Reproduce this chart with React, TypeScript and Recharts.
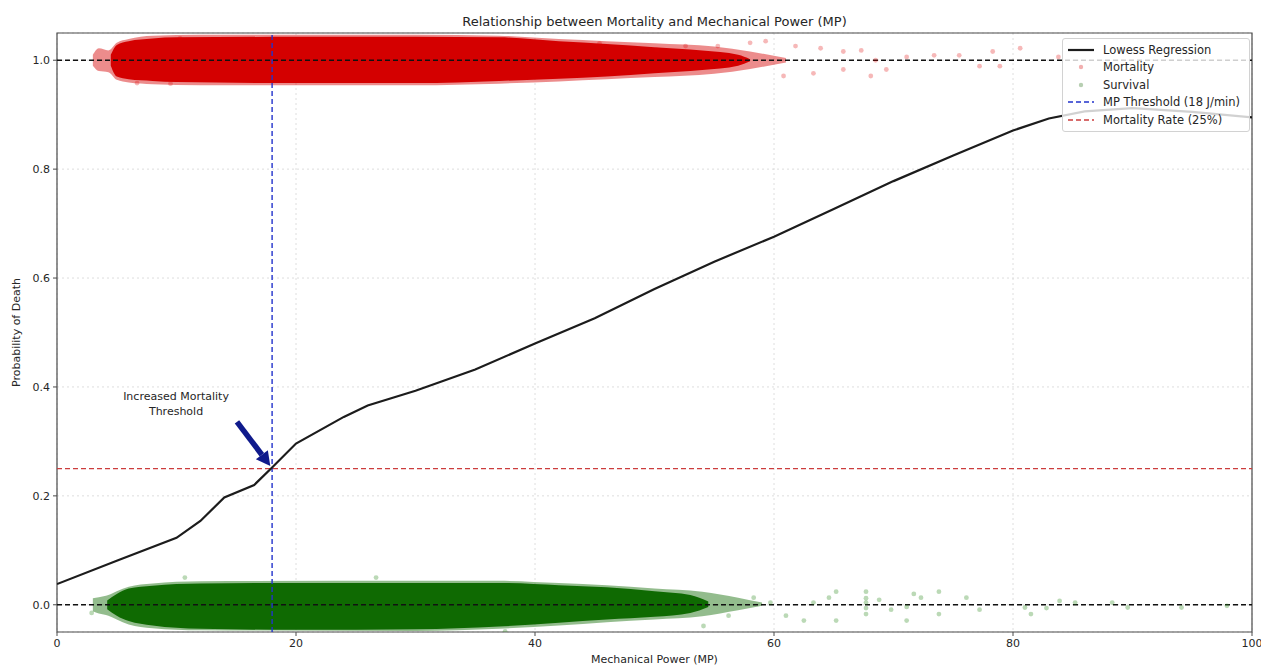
import {
  ComposedChart,
  Area,
  Line,
  Scatter,
  XAxis,
  YAxis,
  CartesianGrid,
  ReferenceLine,
  ReferenceArea,
  ReferenceDot,
  Legend,
} from "recharts";

// chart size + plot box
const W = 1261;
const H = 666;
const FONT = "'DejaVu Sans', Verdana, sans-serif";

const TITLE = "Relationship between Mortality and Mechanical Power (MP)";
const X_LABEL = "Mechanical Power (MP)";
const Y_LABEL = "Probability of Death";
const NOTE_LINES = ["Increased Mortality", "Threshold"];

const X_TICKS = [0, 20, 40, 60, 80, 100];
const Y_TICKS = [0, 0.2, 0.4, 0.6, 0.8, 1.0];

const MP_THRESHOLD = 18;
const MORTALITY_RATE = 0.25;

// lowess curve
const LOWESS_X = [0, 5, 10, 12, 14, 16.5, 18, 20, 24, 26, 30, 35, 40, 45, 50, 55, 60, 65, 70, 75, 80, 83, 86, 90, 95, 100];
const LOWESS_Y = [0.038, 0.081, 0.123, 0.154, 0.197, 0.22, 0.252, 0.296, 0.345, 0.366, 0.393, 0.432, 0.48, 0.526, 0.58, 0.63, 0.676, 0.727, 0.778, 0.825, 0.871, 0.893, 0.906, 0.912, 0.905, 0.895];

// dense part of the mortality cloud (jittered around 1)
const RED_CORE_X = [4.5, 5, 6, 8, 10, 20, 30, 37, 42, 46, 50, 54, 57, 58];
const RED_CORE_LO = [0.99, 0.97, 0.965, 0.962, 0.96, 0.958, 0.958, 0.962, 0.966, 0.97, 0.976, 0.982, 0.99, 0.998];
const RED_CORE_HI = [1.01, 1.028, 1.035, 1.04, 1.042, 1.043, 1.043, 1.042, 1.035, 1.03, 1.024, 1.018, 1.01, 1.002];

const RED_EDGE_X = [3, 3.5, 4.3, 5, 6, 8, 12, 30, 37, 42, 46, 50, 55, 58, 61];
const RED_EDGE_LO = [0.99, 0.98, 0.978, 0.964, 0.959, 0.956, 0.954, 0.954, 0.957, 0.961, 0.965, 0.969, 0.975, 0.984, 0.996];
const RED_EDGE_HI = [1.01, 1.022, 1.018, 1.032, 1.039, 1.045, 1.047, 1.047, 1.045, 1.039, 1.035, 1.031, 1.025, 1.016, 1.004];

// stray mortality points
const RED_DOT_X = [6.7, 9.5, 10.3, 45.4, 50.2, 52.6, 55.3, 58.0, 59.3, 60.8, 61.8, 63.3, 63.9, 65.8, 65.8, 67.3, 68.1, 68.5, 69.4, 71.1, 73.4, 75.5, 77.2, 78.3, 78.9, 80.6, 83.8];
const RED_DOT_Y = [0.958, 0.957, 1.04, 1.031, 1.019, 1.026, 1.026, 1.032, 1.035, 0.971, 1.026, 0.976, 1.022, 0.983, 1.016, 1.018, 0.971, 1.0, 0.983, 1.006, 1.009, 1.009, 0.989, 1.016, 0.989, 1.022, 1.006];

// dense part of the survival cloud (jittered around 0)
const GREEN_CORE_X = [4.2, 5, 6, 8, 12, 20, 30, 37, 42, 46, 50, 53, 54.5];
const GREEN_CORE_LO = [-0.008, -0.02, -0.03, -0.038, -0.044, -0.046, -0.045, -0.04, -0.033, -0.027, -0.022, -0.015, -0.004];
const GREEN_CORE_HI = [0.008, 0.02, 0.03, 0.035, 0.039, 0.04, 0.04, 0.04, 0.036, 0.032, 0.025, 0.018, 0.006];

const GREEN_EDGE_X = [3, 3.5, 4.3, 5, 6, 8, 12, 30, 37, 42, 46, 50, 54, 57, 59];
const GREEN_EDGE_LO = [-0.012, -0.016, -0.02, -0.027, -0.036, -0.043, -0.047, -0.048, -0.044, -0.038, -0.032, -0.027, -0.021, -0.01, -0.002];
const GREEN_EDGE_HI = [0.012, 0.014, 0.018, 0.025, 0.033, 0.039, 0.043, 0.044, 0.044, 0.04, 0.036, 0.03, 0.024, 0.013, 0.004];

// stray survival points
const GREEN_DOT_X = [2.9, 10.7, 26.7, 37.5, 54.1, 56.2, 58.3, 59.7, 61.0, 62.5, 63.3, 64.6, 65.2, 65.2, 67.7, 67.7, 67.7, 67.7, 67.7, 68.8, 69.8, 71.1, 71.1, 71.7, 72.3, 73.8, 73.8, 76.1, 77.2, 81.0, 81.5, 82.8, 83.9, 85.2, 88.3, 89.6, 94.1, 97.9];
const GREEN_DOT_Y = [-0.015, 0.05, 0.05, -0.049, -0.039, -0.02, 0.013, 0.004, -0.02, -0.029, 0.004, 0.013, 0.024, -0.029, 0.024, 0.012, 0.004, -0.006, -0.017, 0.009, -0.009, -0.004, -0.029, 0.02, 0.013, 0.024, -0.017, 0.013, -0.009, -0.005, -0.017, -0.006, 0.007, 0.004, 0.004, -0.005, -0.005, -0.002];

const COLORS = {
  red: "#d40000",
  green: "#0f6a02",
  lowess: "#1c1c1c",
  threshold: "#2233cc",
  rate: "#cc3d3d",
  arrow: "#0f1a8c",
  text: "#262626",
  grid: "#d6d6d6",
  frame: "#4a4a4a",
};

const lowess = LOWESS_X.map((x, i) => ({ x, y: LOWESS_Y[i] }));
const band = (xs: number[], lo: number[], hi: number[]) =>
  xs.map((x, i) => ({ x, range: [lo[i], hi[i]] }));
const redCore = band(RED_CORE_X, RED_CORE_LO, RED_CORE_HI);
const redEdge = band(RED_EDGE_X, RED_EDGE_LO, RED_EDGE_HI);
const greenCore = band(GREEN_CORE_X, GREEN_CORE_LO, GREEN_CORE_HI);
const greenEdge = band(GREEN_EDGE_X, GREEN_EDGE_LO, GREEN_EDGE_HI);
const redDots = RED_DOT_X.map((x, i) => ({ x, y: RED_DOT_Y[i] }));
const greenDots = GREEN_DOT_X.map((x, i) => ({ x, y: GREEN_DOT_Y[i] }));

const dot = (fill: string, opacity: number) => (p: any) =>
  <circle cx={p.cx} cy={p.cy} r={2.4} fill={fill} fillOpacity={opacity} />;

function Arrow(p: any) {
  const { x1, y1, x2, y2 } = p;
  const a = Math.atan2(y2 - y1, x2 - x1);
  const len = 14;
  const half = 7.5;
  const bx = x2 - len * Math.cos(a);
  const by = y2 - len * Math.sin(a);
  const nx = -Math.sin(a);
  const ny = Math.cos(a);
  return (
    <g>
      <line x1={x1} y1={y1} x2={bx} y2={by} stroke={COLORS.arrow} strokeWidth={5.5} />
      <polygon
        points={`${x2},${y2} ${bx + nx * half},${by + ny * half} ${bx - nx * half},${by - ny * half}`}
        fill={COLORS.arrow}
      />
    </g>
  );
}

function Note(p: any) {
  return (
    <text x={p.cx} y={p.cy} textAnchor="middle" fontSize={11} fill={COLORS.text} fontFamily={FONT}>
      <tspan x={p.cx} dy={-3}>{NOTE_LINES[0]}</tspan>
      <tspan x={p.cx} dy={15}>{NOTE_LINES[1]}</tspan>
    </text>
  );
}

const LEGEND_ITEMS = [
  { label: "Lowess Regression", kind: "line", color: COLORS.lowess },
  { label: "Mortality", kind: "dot", color: "#f2b0b0" },
  { label: "Survival", kind: "dot", color: "#b7cfb2" },
  { label: "MP Threshold (18 J/min)", kind: "dash", color: COLORS.threshold },
  { label: "Mortality Rate (25%)", kind: "dash", color: COLORS.rate },
];

function LegendBox() {
  return (
    <div
      style={{
        background: "rgba(255,255,255,0.8)",
        border: "1px solid #d2d2d2",
        borderRadius: 3,
        padding: "2px 6px 2px 4px",
        fontFamily: FONT,
        fontSize: 11.5,
        color: COLORS.text,
        boxSizing: "border-box",
      }}
    >
      {LEGEND_ITEMS.map((it) => (
        <div key={it.label} style={{ display: "flex", alignItems: "center", height: 17.5 }}>
          <svg width={28} height={10} style={{ marginRight: 8 }}>
            {it.kind === "line" && <line x1={1} y1={5} x2={27} y2={5} stroke={it.color} strokeWidth={2.2} />}
            {it.kind === "dash" && (
              <line x1={1} y1={5} x2={27} y2={5} stroke={it.color} strokeWidth={1.6} strokeDasharray="5 3" />
            )}
            {it.kind === "dot" && <circle cx={14} cy={5} r={2.2} fill={it.color} />}
          </svg>
          <span style={{ whiteSpace: "nowrap" }}>{it.label}</span>
        </div>
      ))}
    </div>
  );
}

const tickStyle = { fill: COLORS.text, fontSize: 11, fontFamily: FONT };

export default function App() {
  return (
    <div style={{ position: "absolute", left: 0, top: 0, width: W, height: H, background: "#fff", fontFamily: FONT }}>
      <div
        style={{
          position: "absolute",
          left: 57,
          top: 13,
          width: 1195,
          textAlign: "center",
          fontSize: 13,
          lineHeight: "18px",
          color: COLORS.text,
        }}
      >
        {TITLE}
      </div>
      <ComposedChart width={W} height={H} margin={{ top: 33, right: 9, bottom: 0, left: 0 }}>
        <CartesianGrid stroke={COLORS.grid} strokeDasharray="2 3" strokeWidth={0.8} />
        <XAxis
          type="number"
          dataKey="x"
          domain={[0, 100]}
          ticks={X_TICKS}
          allowDataOverflow
          height={34}
          axisLine={false}
          tickSize={4}
          tickMargin={3}
          tickLine={{ stroke: COLORS.frame }}
          tick={tickStyle}
          label={{ value: X_LABEL, position: "insideBottom", offset: 3, fill: COLORS.text, fontSize: 11, fontFamily: FONT }}
        />
        <YAxis
          type="number"
          domain={[-0.05, 1.05]}
          ticks={Y_TICKS}
          allowDataOverflow
          width={57}
          axisLine={false}
          tickSize={4}
          tickMargin={3}
          tickLine={{ stroke: COLORS.frame }}
          tick={tickStyle}
          tickFormatter={(v: number) => v.toFixed(1)}
          label={{
            content: (p: any) => {
              const vb = p.viewBox || { y: 33, height: 599 };
              const cy = vb.y + vb.height / 2;
              return (
                <text
                  x={16}
                  y={cy}
                  transform={`rotate(-90 16 ${cy})`}
                  textAnchor="middle"
                  dominantBaseline="central"
                  fontSize={11}
                  fill={COLORS.text}
                  fontFamily={FONT}
                >
                  {Y_LABEL}
                </text>
              );
            },
          }}
        />

        <Area data={redEdge} dataKey="range" type="monotone" stroke="none" fill={COLORS.red} fillOpacity={0.45} isAnimationActive={false} />
        <Area data={redCore} dataKey="range" type="monotone" stroke="none" fill={COLORS.red} fillOpacity={1} isAnimationActive={false} />
        <Area data={greenEdge} dataKey="range" type="monotone" stroke="none" fill={COLORS.green} fillOpacity={0.45} isAnimationActive={false} />
        <Area data={greenCore} dataKey="range" type="monotone" stroke="none" fill={COLORS.green} fillOpacity={1} isAnimationActive={false} />
        <Scatter data={redDots} dataKey="y" shape={dot("#e00000", 0.28)} isAnimationActive={false} />
        <Scatter data={greenDots} dataKey="y" shape={dot("#2c8a1c", 0.32)} isAnimationActive={false} />

        <ReferenceLine y={1} stroke="#111" strokeWidth={1.4} strokeDasharray="5 3" />
        <ReferenceLine y={0} stroke="#111" strokeWidth={1.4} strokeDasharray="5 3" />
        <ReferenceLine y={MORTALITY_RATE} stroke={COLORS.rate} strokeWidth={1.4} strokeDasharray="5 3" />
        <ReferenceLine x={MP_THRESHOLD} stroke={COLORS.threshold} strokeWidth={1.4} strokeDasharray="5 3" />

        <Line data={lowess} dataKey="y" type="linear" stroke={COLORS.lowess} strokeWidth={2.2} dot={false} isAnimationActive={false} />

        <ReferenceLine segment={[{ x: 15.06, y: 0.336 }, { x: 17.85, y: 0.255 }]} shape={Arrow} />
        <ReferenceDot x={9.96} y={0.3704} r={0} shape={Note} />
        <ReferenceArea x1={0} x2={100} y1={-0.05} y2={1.05} fill="none" stroke={COLORS.frame} strokeWidth={1.2} />

        <Legend
          layout="horizontal"
          align="center"
          verticalAlign="middle"
          content={() => <LegendBox />}
          wrapperStyle={{ top: 38, left: 1062, width: 188, height: 92 }}
        />
      </ComposedChart>
    </div>
  );
}
